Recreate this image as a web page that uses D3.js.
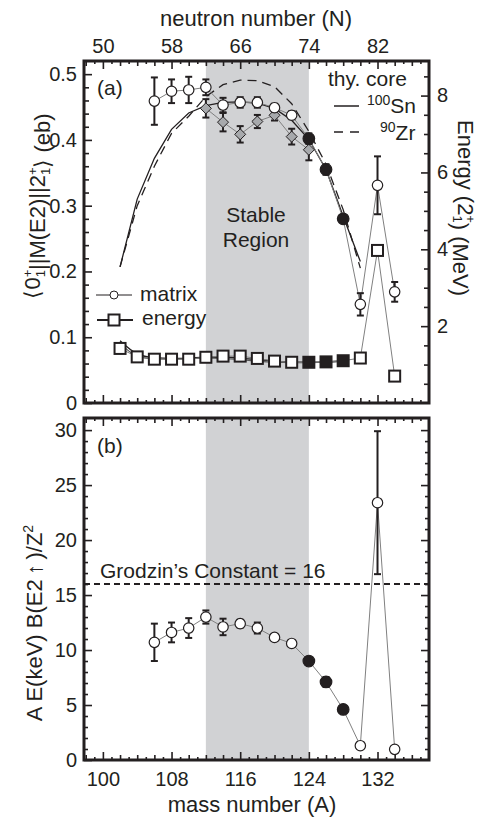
<!DOCTYPE html>
<html>
<head>
<meta charset="utf-8">
<script src="https://cdn.jsdelivr.net/npm/d3@7"></script>
<style>
  body { margin: 0; background: #fff; }
  svg { display: block; }
  .num { font-family: "Liberation Sans", Arial, sans-serif; font-size: 20px; fill: #231f20; }
  .ttl { font-family: "Liberation Sans", Arial, sans-serif; font-size: 22px; fill: #231f20; }
  .ann { font-family: "Liberation Sans", Arial, sans-serif; fill: #231f20; }
</style>
</head>
<body>
<svg id="chart" width="488" height="819"></svg>
<script>
// mass numbers (x) and values
var matrixA   = [106, 108, 110, 112, 114, 116, 118, 120, 122, 124, 126, 128, 130, 132, 134];
var matrixVal = [0.459, 0.474, 0.476, 0.480, 0.453, 0.457, 0.457, 0.449, 0.4375, 0.402, 0.355, 0.280, 0.150, 0.331, 0.169];
var matrixErr = [0.036, 0.018, 0.020, 0.012, 0.011, 0.008, 0.008, 0.006, 0.006, 0.008, 0.008, 0.005, 0.017, 0.044, 0.015];
var filledA   = [124, 126, 128];

var diamondA   = [112, 114, 116, 118, 120, 122, 124];
var diamondVal = [0.448, 0.427, 0.4085, 0.428, 0.4375, 0.405, 0.385];
var diamondErr = [0.014, 0.014, 0.0125, 0.010, 0.008, 0.012, 0.016];

var thyA  = [102, 104, 106, 108, 110, 112, 114, 116, 118, 120, 122, 124, 126, 128, 130];
var thySn = [0.207, 0.31, 0.372, 0.416, 0.441, 0.452, 0.457, 0.458, 0.456, 0.448, 0.430, 0.401, 0.355, 0.284, 0.215];
var thyZr = [0.207, 0.30, 0.360, 0.410, 0.436, 0.466, 0.484, 0.491, 0.490, 0.481, 0.455, 0.413, 0.363, 0.294, 0.205];

var energyA   = [102, 104, 106, 108, 110, 112, 114, 116, 118, 120, 122, 124, 126, 128, 130, 132, 134];
var energyVal = [1.42, 1.20, 1.14, 1.14, 1.14, 1.19, 1.22, 1.22, 1.16, 1.09, 1.06, 1.06, 1.07, 1.10, 1.17, 3.97, 0.70];

var thyEA  = [102, 104, 106, 108, 110, 112, 114, 116, 118, 120, 122, 124, 126, 128];
var thyESn = [1.62, 1.28, 1.18, 1.16, 1.17, 1.19, 1.19, 1.17, 1.13, 1.09, 1.07, 1.06, 1.07, 1.10];
var thyEZr = [1.55, 1.22, 1.15, 1.14, 1.15, 1.17, 1.16, 1.13, 1.09, 1.06, 1.05, 1.05, 1.06, 1.09];

var bA   = [106, 108, 110, 112, 114, 116, 118, 120, 122, 124, 126, 128, 130, 132, 134];
var bVal = [10.7, 11.6, 12.0, 13.0, 12.1, 12.4, 12.0, 11.15, 10.6, 9.0, 7.1, 4.6, 1.3, 23.4, 0.97];
var bErr = [1.7, 0.9, 0.9, 0.6, 0.75, 0.35, 0.5, 0.2, 0.15, 0.3, 0.45, 0.3, 0.3, 6.5, 0.1];

var massTicks = [100, 108, 116, 124, 132];
var nTicks = [50, 58, 66, 74, 82];
var matrixTicks = [0, 0.1, 0.2, 0.3, 0.4, 0.5];
var energyTicks = [2, 4, 6, 8];
var bTicks = [0, 5, 10, 15, 20, 25, 30];
var stable = [112, 124];
var grodzins = 16;

var svg = d3.select('#chart');
var L = 84, R = 429;
var aTop = 61, aBot = 403, bTop = 418, bBot = 760;

var x = d3.scaleLinear().domain([97.8, 138]).range([L, R]);
var xN = d3.scaleLinear().domain([47.8, 88]).range([L, R]);
var ya = d3.scaleLinear().domain([0, 0.52]).range([aBot, aTop]);
var ye = d3.scaleLinear().domain([0, 8.9]).range([aBot, aTop]);
var yb = d3.scaleLinear().domain([0, 31.1]).range([bBot, bTop]);

// stable region shading
[[aTop, aBot], [bTop, bBot]].forEach(function (p) {
    svg.append('rect')
        .attr('x', x(stable[0])).attr('width', x(stable[1]) - x(stable[0]))
        .attr('y', p[0]).attr('height', p[1] - p[0])
        .attr('fill', '#d1d2d4');
});

// ticks helper: draws inward ticks, optional labels
function tickAxis(axis, tr, values, size, labels, pad) {
    var g = svg.append('g').attr('transform', tr)
        .call(axis.tickValues(values).tickSize(-size).tickPadding(pad || 8)
            .tickFormat(labels ? null : ''));
    g.select('.domain').remove();
    g.selectAll('line').attr('stroke', '#231f20').attr('stroke-width', 1.6);
    g.selectAll('text').attr('class', 'num').attr('font-size', null).attr('font-family', null).attr('fill', null);
    return g;
}
var oddA = d3.range(98, 138).filter(function (d) { return d % 2 !== 0; });
var evenA = d3.range(98, 138).filter(function (d) { return d % 2 === 0 && massTicks.indexOf(d) < 0; });

// panel (a) x ticks
tickAxis(d3.axisBottom(x), 'translate(0,' + aBot + ')', oddA, 3);
tickAxis(d3.axisBottom(x), 'translate(0,' + aBot + ')', evenA, 5);
tickAxis(d3.axisBottom(x), 'translate(0,' + aBot + ')', massTicks, 8);
tickAxis(d3.axisTop(x), 'translate(0,' + aTop + ')', oddA, 3);
tickAxis(d3.axisTop(x), 'translate(0,' + aTop + ')', evenA, 5);
tickAxis(d3.axisTop(xN), 'translate(0,' + aTop + ')', nTicks, 8, true, 8);
// panel (b) x ticks
tickAxis(d3.axisTop(x), 'translate(0,' + bTop + ')', oddA, 3);
tickAxis(d3.axisTop(x), 'translate(0,' + bTop + ')', evenA, 5);
tickAxis(d3.axisTop(x), 'translate(0,' + bTop + ')', massTicks, 8);
tickAxis(d3.axisBottom(x), 'translate(0,' + bBot + ')', oddA, 3);
tickAxis(d3.axisBottom(x), 'translate(0,' + bBot + ')', evenA, 5);
tickAxis(d3.axisBottom(x), 'translate(0,' + bBot + ')', massTicks, 8, true, 12);

// panel (a) y ticks
var minorM = d3.range(0.02, 0.52, 0.02).filter(function (d) { return Math.abs(d * 10 - Math.round(d * 10)) > 1e-6; });
tickAxis(d3.axisLeft(ya), 'translate(' + L + ',0)', minorM, 5);
tickAxis(d3.axisLeft(ya), 'translate(' + L + ',0)', matrixTicks, 8, true, 7)
    .selectAll('text').text(function (d) { return d === 0 ? '0' : d3.format('.1f')(d); });
var minorE = d3.range(0.5, 8.9, 0.5).filter(function (d) { return energyTicks.indexOf(d) < 0; });
tickAxis(d3.axisRight(ye), 'translate(' + R + ',0)', minorE, 5);
tickAxis(d3.axisRight(ye), 'translate(' + R + ',0)', energyTicks, 8, true, 8);

// panel (b) y ticks
var minorB = d3.range(1, 31, 1).filter(function (d) { return d % 5 !== 0; });
tickAxis(d3.axisLeft(yb), 'translate(' + L + ',0)', minorB, 4);
tickAxis(d3.axisLeft(yb), 'translate(' + L + ',0)', bTicks, 8, true, 7);
tickAxis(d3.axisRight(yb), 'translate(' + R + ',0)', minorB, 4);
tickAxis(d3.axisRight(yb), 'translate(' + R + ',0)', bTicks.slice(1), 8);

// ---- panel (a) data ----
var ga = svg.append('g');
var lineE = d3.line().x(function (d) { return x(d[0]); }).y(function (d) { return ye(d[1]); });
var lineM = d3.line().x(function (d) { return x(d[0]); }).y(function (d) { return ya(d[1]); });

// energy theory curves
ga.append('path').datum(d3.zip(thyEA, thyESn)).attr('d', lineE.curve(d3.curveMonotoneX))
    .attr('fill', 'none').attr('stroke', '#231f20').attr('stroke-width', 1.3);
ga.append('path').datum(d3.zip(thyEA, thyEZr)).attr('d', lineE)
    .attr('fill', 'none').attr('stroke', '#555').attr('stroke-width', 1.1);
lineE.curve(d3.curveLinear);
// energy data line
ga.append('path').datum(d3.zip(energyA, energyVal)).attr('d', lineE)
    .attr('fill', 'none').attr('stroke', '#808080').attr('stroke-width', 1);

// matrix theory
ga.append('path').datum(d3.zip(thyA, thySn)).attr('d', lineM)
    .attr('fill', 'none').attr('stroke', '#231f20').attr('stroke-width', 1.3);
ga.append('path').datum(d3.zip(thyA, thyZr)).attr('d', lineM)
    .attr('fill', 'none').attr('stroke', '#231f20').attr('stroke-width', 1.3)
    .attr('stroke-dasharray', '9,6');

// connecting lines
ga.append('path').datum(d3.zip(diamondA, diamondVal)).attr('d', lineM)
    .attr('fill', 'none').attr('stroke', '#808080').attr('stroke-width', 1);
ga.append('path').datum(d3.zip(matrixA, matrixVal)).attr('d', lineM)
    .attr('fill', 'none').attr('stroke', '#808080').attr('stroke-width', 1);

function errBars(g, xs, vals, errs, yS) {
    xs.forEach(function (a, i) {
        var xx = x(a), y1 = yS(vals[i] + errs[i]), y2 = yS(vals[i] - errs[i]);
        g.append('line').attr('x1', xx).attr('x2', xx).attr('y1', y1).attr('y2', y2)
            .attr('stroke', '#231f20').attr('stroke-width', 2);
        [y1, y2].forEach(function (yy) {
            g.append('line').attr('x1', xx - 3.5).attr('x2', xx + 3.5).attr('y1', yy).attr('y2', yy)
                .attr('stroke', '#231f20').attr('stroke-width', 2);
        });
    });
}
errBars(ga, diamondA, diamondVal, diamondErr, ya);
errBars(ga, matrixA, matrixVal, matrixErr, ya);

ga.selectAll('.dia').data(d3.zip(diamondA, diamondVal)).enter().append('path')
    .attr('d', 'M0,-5.5L5.5,0L0,5.5L-5.5,0Z')
    .attr('transform', function (d) { return 'translate(' + x(d[0]) + ',' + ya(d[1]) + ')'; })
    .attr('fill', '#a7a9ac').attr('stroke', '#231f20').attr('stroke-width', 1);

ga.selectAll('.sq').data(d3.zip(energyA, energyVal)).enter().append('rect')
    .attr('x', function (d) { return x(d[0]) - 5.5; })
    .attr('y', function (d) { return ye(d[1]) - 5.5; })
    .attr('width', 11).attr('height', 11)
    .attr('fill', function (d) { return filledA.indexOf(d[0]) >= 0 ? '#231f20' : '#fff'; })
    .attr('stroke', '#231f20').attr('stroke-width', 2);

ga.selectAll('.circ').data(d3.zip(matrixA, matrixVal)).enter().append('circle')
    .attr('cx', function (d) { return x(d[0]); })
    .attr('cy', function (d) { return ya(d[1]); })
    .attr('r', function (d) { return filledA.indexOf(d[0]) >= 0 ? 5.8 : 5.2; })
    .attr('fill', function (d) { return filledA.indexOf(d[0]) >= 0 ? '#231f20' : '#fff'; })
    .attr('stroke', '#231f20').attr('stroke-width', 1.2);

// ---- panel (b) data ----
var gb = svg.append('g');
gb.append('line').attr('x1', L).attr('x2', R).attr('y1', yb(grodzins)).attr('y2', yb(grodzins))
    .attr('stroke', '#231f20').attr('stroke-width', 2).attr('stroke-dasharray', '6,4');
var lineB = d3.line().x(function (d) { return x(d[0]); }).y(function (d) { return yb(d[1]); });
gb.append('path').datum(d3.zip(bA, bVal)).attr('d', lineB)
    .attr('fill', 'none').attr('stroke', '#808080').attr('stroke-width', 1);
errBars(gb, bA, bVal, bErr, yb);
gb.selectAll('.circ').data(d3.zip(bA, bVal)).enter().append('circle')
    .attr('cx', function (d) { return x(d[0]); })
    .attr('cy', function (d) { return yb(d[1]); })
    .attr('r', function (d) { return filledA.indexOf(d[0]) >= 0 ? 5.8 : 5.2; })
    .attr('fill', function (d) { return filledA.indexOf(d[0]) >= 0 ? '#231f20' : '#fff'; })
    .attr('stroke', '#231f20').attr('stroke-width', 1.2);

// frames
[[aTop, aBot], [bTop, bBot]].forEach(function (p) {
    svg.append('rect').attr('x', L).attr('y', p[0]).attr('width', R - L).attr('height', p[1] - p[0])
        .attr('fill', 'none').attr('stroke', '#231f20').attr('stroke-width', 3);
});

// ---- annotations ----
function ann(tx, ty, str, size, anchor) {
    return svg.append('text').attr('class', 'ann').attr('x', tx).attr('y', ty)
        .attr('font-size', size).attr('text-anchor', anchor || 'start').text(str);
}
ann(97, 95, '(a)', 21);
ann(97, 453, '(b)', 21);
ann(256, 222, 'Stable', 21, 'middle');
ann(256, 247, 'Region', 21, 'middle');
ann(100, 578, 'Grodzin\u2019s Constant = 16', 21);

// core legend
svg.append('line').attr('x1', 334).attr('x2', 359).attr('y1', 106).attr('y2', 106)
    .attr('stroke', '#231f20').attr('stroke-width', 1.5);
svg.append('line').attr('x1', 334).attr('x2', 362).attr('y1', 132).attr('y2', 132)
    .attr('stroke', '#231f20').attr('stroke-width', 1.5).attr('stroke-dasharray', '9,7');
ann(328, 86, 'thy. core', 21);
var t1 = ann(367, 113, '', 21);
t1.append('tspan').attr('font-size', 14).attr('dy', -8).text('100');
t1.append('tspan').attr('dy', 8).text('Sn');
var t2 = ann(380, 140, '', 21);
t2.append('tspan').attr('font-size', 14).attr('dy', -8).text('90');
t2.append('tspan').attr('dy', 8).text('Zr');

// matrix / energy legend
svg.append('line').attr('x1', 96).attr('x2', 132).attr('y1', 295).attr('y2', 295)
    .attr('stroke', '#231f20').attr('stroke-width', 1);
svg.append('circle').attr('cx', 114).attr('cy', 295).attr('r', 4)
    .attr('fill', '#fff').attr('stroke', '#231f20').attr('stroke-width', 1);
svg.append('line').attr('x1', 97).attr('x2', 133).attr('y1', 320).attr('y2', 320)
    .attr('stroke', '#231f20').attr('stroke-width', 2.2);
svg.append('rect').attr('x', 108.5).attr('y', 314.5).attr('width', 11).attr('height', 11)
    .attr('fill', '#fff').attr('stroke', '#231f20').attr('stroke-width', 2);
ann(140, 300.5, 'matrix', 21);
ann(142, 324.5, 'energy', 21);

// axis titles
svg.append('text').attr('class', 'ttl').attr('x', 256).attr('y', 26).attr('text-anchor', 'middle')
    .text('neutron number (N)');
svg.append('text').attr('class', 'ttl').attr('x', 252).attr('y', 812).attr('text-anchor', 'middle')
    .text('mass number (A)');

var lt = svg.append('text').attr('class', 'ttl').attr('font-size', 21)
    .attr('transform', 'translate(40,206) rotate(-90)').attr('text-anchor', 'middle');
function supSub(t, sup, sub) {
    t.append('tspan').attr('font-size', 13).attr('dy', -8).text(sup);
    t.append('tspan').attr('font-size', 13).attr('dx', -7.5).attr('dy', 13).text(sub);
    t.append('tspan').attr('dy', -5).text('');
}
lt.append('tspan').text('\u27E80');
supSub(lt, '+', '1');
lt.append('tspan').text('||M(E2)||2');
supSub(lt, '+', '1');
lt.append('tspan').text('\u27E9  (eb)');

var rt = svg.append('text').attr('class', 'ttl').attr('font-size', 21)
    .attr('transform', 'translate(458,208) rotate(90)').attr('text-anchor', 'middle');
rt.append('tspan').text('Energy (2');
supSub(rt, '+', '1');
rt.append('tspan').text(')  (MeV)');

var bt = svg.append('text').attr('class', 'ttl').attr('font-size', 21)
    .attr('transform', 'translate(42,623) rotate(-90)').attr('text-anchor', 'middle');
bt.append('tspan').text('A E(keV) B(E2\u2009\u2191\u2009)/Z');
bt.append('tspan').attr('font-size', 14).attr('dy', -9).text('2');
</script>
</body>
</html>
